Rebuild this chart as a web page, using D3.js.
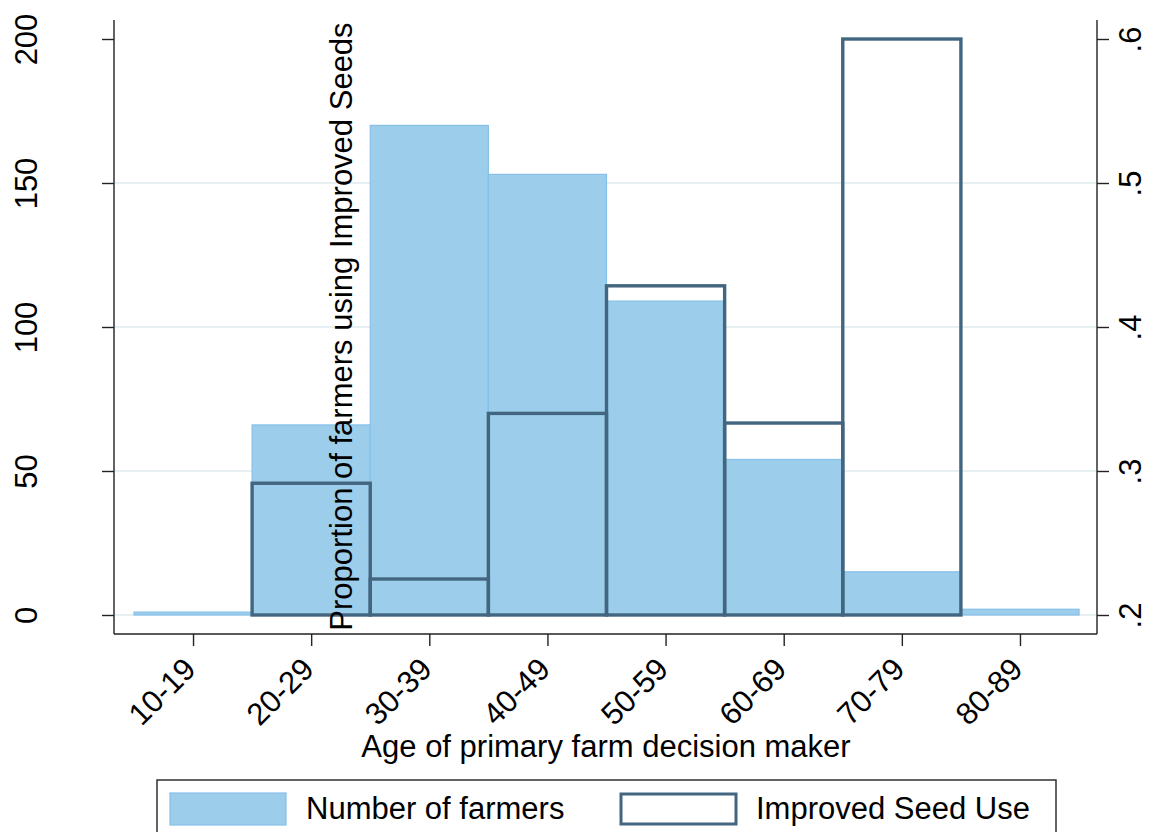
<!DOCTYPE html>
<html><head><meta charset="utf-8">
<script src="https://cdn.jsdelivr.net/npm/d3@7"></script>
<style>body{margin:0;background:#fff}text{font-family:"Liberation Sans",Arial,sans-serif;fill:#000}</style>
</head><body><svg id="c" width="1149" height="832"></svg>
<script>
const categories = ["10-19","20-29","30-39","40-49","50-59","60-69","70-79","80-89"];
const farmers = [1, 66, 170, 153, 109, 54, 15, 2];
const seedUse = [null, 0.2915, 0.225, 0.340, 0.4286, 0.3333, 0.6, null];
const leftTicks = [0, 50, 100, 150, 200];
const rightTicks = [0.2, 0.3, 0.4, 0.5, 0.6];
const rightTickLabels = [".2", ".3", ".4", ".5", ".6"];

const svg = d3.select("#c");
const L = 114, R = 1097, T = 20, B = 634;
const FS = "31px";
const x = d3.scaleLinear().domain([-0.669, 7.652]).range([L, R]);
const yL = d3.scaleLinear().domain([-6.6, 206.6]).range([B, T]);
const yR = d3.scaleLinear().domain([0.1868, 0.6132]).range([B, T]);

const blue = "#9ccdeb", blueEdge = "#86c0e8", dark = "#436680";

// gridlines
svg.append("g").selectAll("line").data(leftTicks.slice(0, 4)).join("line")
  .attr("x1", L + 1).attr("x2", R - 1)
  .attr("y1", d => yL(d)).attr("y2", d => yL(d))
  .attr("stroke", "#e6f0f2").attr("stroke-width", 2.2);

// blue bars
svg.append("g").selectAll("rect").data(farmers).join("rect")
  .attr("x", (d, i) => x(i - 0.5)).attr("width", (d, i) => x(i + 0.5) - x(i - 0.5))
  .attr("y", d => yL(d)).attr("height", d => yL(0) - yL(d))
  .attr("fill", blue).attr("stroke", blueEdge).attr("stroke-width", 1.2);

// outline bars
const sd = seedUse.map((v, i) => ({v, i})).filter(d => d.v != null);
svg.append("g").selectAll("rect").data(sd).join("rect")
  .attr("x", d => x(d.i - 0.5)).attr("width", d => x(d.i + 0.5) - x(d.i - 0.5))
  .attr("y", d => yR(d.v)).attr("height", d => yR(0.2) - yR(d.v))
  .attr("fill", "none").attr("stroke", dark).attr("stroke-width", 3.4);

// axes
const gl = svg.append("g").attr("transform", `translate(${L},0)`)
  .call(d3.axisLeft(yL).tickValues(leftTicks).tickSize(12).tickFormat(d3.format("d")));
gl.select(".domain").attr("d", `M0,${T}V${B}`).attr("stroke", "#222").attr("stroke-width", 1.4);
gl.selectAll(".tick line").attr("stroke", "#222").attr("stroke-width", 1.4);
gl.selectAll(".tick text").attr("transform", "rotate(-90)").attr("x", 0).attr("y", -77)
  .attr("dy", 0).attr("text-anchor", "middle").style("font-size", FS);

const gr = svg.append("g").attr("transform", `translate(${R},0)`)
  .call(d3.axisRight(yR).tickValues(rightTicks).tickSize(12).tickFormat((d, i) => rightTickLabels[i]));
gr.select(".domain").attr("d", `M0,${T}V${B}`).attr("stroke", "#222").attr("stroke-width", 1.4);
gr.selectAll(".tick line").attr("stroke", "#222").attr("stroke-width", 1.4);
gr.selectAll(".tick text").attr("transform", "rotate(-90)").attr("x", 0).attr("y", 44)
  .attr("dy", 0).attr("text-anchor", "middle").style("font-size", FS);

const gb = svg.append("g").attr("transform", `translate(0,${B})`)
  .call(d3.axisBottom(x).tickValues(d3.range(categories.length)).tickSize(12).tickFormat(i => categories[i]));
gb.select(".domain").attr("d", `M${L},0H${R}`).attr("stroke", "#222").attr("stroke-width", 1.4);
gb.selectAll(".tick line").attr("stroke", "#222").attr("stroke-width", 1.4);
gb.selectAll(".tick text").attr("transform", "translate(4,37) rotate(-45)").attr("x", 0).attr("y", 0)
  .attr("dy", 0).attr("text-anchor", "end").style("font-size", FS);

// titles
svg.append("text").attr("x", 606).attr("y", 757).attr("text-anchor", "middle")
  .style("font-size", FS).text("Age of primary farm decision maker");
svg.append("text").attr("transform", "translate(352,326.5) rotate(-90)").attr("text-anchor", "middle")
  .style("font-size", FS).text("Proportion of farmers using Improved Seeds");

// legend
const lg = svg.append("g");
lg.append("rect").attr("x", 157).attr("y", 780).attr("width", 899).attr("height", 70)
  .attr("fill", "#fff").attr("stroke", "#222").attr("stroke-width", 1.4);
lg.append("rect").attr("x", 170).attr("y", 793).attr("width", 116).attr("height", 32)
  .attr("fill", blue).attr("stroke", blueEdge).attr("stroke-width", 1.2);
lg.append("text").attr("x", 306).attr("y", 819).style("font-size", FS).text("Number of farmers");
lg.append("rect").attr("x", 621).attr("y", 794).attr("width", 115).attr("height", 30)
  .attr("fill", "#fff").attr("stroke", dark).attr("stroke-width", 3);
lg.append("text").attr("x", 756).attr("y", 819).style("font-size", FS).text("Improved Seed Use");
</script></body></html>
